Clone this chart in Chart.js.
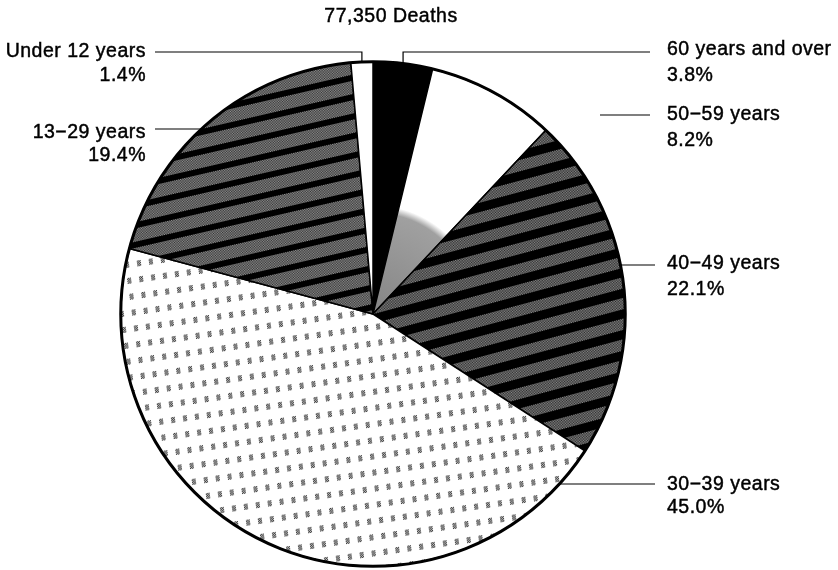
<!DOCTYPE html>
<html>
<head>
<meta charset="utf-8">
<script src="https://cdn.jsdelivr.net/npm/chart.js@4.4.1/dist/chart.umd.min.js"></script>
<style>
  html, body { margin: 0; padding: 0; background: #fff; }
  #wrap { width: 838px; height: 570px; }
</style>
</head>
<body>
<div id="wrap"><canvas id="chartDeaths" width="838" height="570"></canvas></div>
<script>
(function () {
  const categories = ['60 years and over', '50\u221259 years', '40\u221249 years', '30\u221239 years', '13\u221229 years', 'Under 12 years'];
  const shares = [3.8, 8.2, 22.1, 45.0, 19.4, 1.4];
  const totalLabel = '77,350 Deaths';

  const FONT = '19.5px "Liberation Sans", Arial, Helvetica, sans-serif';

  // where each label sits (same order as categories)
  const labelSpots = [
    { side: 'right', tx: 667, ty: 55, gap: 26, lineY: 52, lineTo: 650, elbow: true },
    { side: 'right', tx: 667, ty: 120, gap: 26, lineY: 115, lineFrom: 600, lineTo: 650 },
    { side: 'right', tx: 667, ty: 269, gap: 26, lineY: 265, lineTo: 655 },
    { side: 'right', tx: 667, ty: 490, gap: 23, lineY: 484, lineTo: 655 },
    { side: 'left', tx: 146, ty: 137.5, gap: 23, lineY: 129, lineTo: 155 },
    { side: 'left', tx: 146, ty: 57, gap: 23.5, lineY: 52, lineTo: 155, elbow: true }
  ];

  const pct = v => v.toFixed(1) + '%';

  function tile(w, h) {
    const c = document.createElement('canvas');
    c.width = w; c.height = h;
    return c;
  }

  // dithered gray with solid black bands, tilted
  function stripes(period, band, angle, light, dark) {
    const c = tile(2, period);
    const g = c.getContext('2d');
    for (let y = 0; y < period; y++) {
      for (let x = 0; x < 2; x++) {
        g.fillStyle = y < band ? '#000' : ((x + y) % 2 ? light : dark);
        g.fillRect(x, y, 1, 1);
      }
    }
    const p = g.createPattern(c, 'repeat');
    p.setTransform(new DOMMatrix().rotate(angle));
    return p;
  }

  // white with rows of small gray specks
  function specks(w, h, angle) {
    const c = tile(w, h);
    const g = c.getContext('2d');
    g.fillStyle = '#fff';
    g.fillRect(0, 0, w, h);
    for (let y = 5; y < 11; y++) {
      for (let x = 3; x < 7; x++) {
        g.fillStyle = (x + y) % 2 ? '#383838' : '#c4c4c4';
        g.fillRect(x, y, 1, 1);
      }
    }
    const p = g.createPattern(c, 'repeat');
    p.setTransform(new DOMMatrix().rotate(angle));
    return p;
  }

  const fills = [
    '#000',
    null,
    stripes(20, 9, -15, '#8a8a8a', '#262626'),
    specks(12, 16, -8),
    stripes(19, 6, -13, '#939393', '#2e2e2e'),
    '#fff'
  ];

  function sliceFill(c) {
    const i = c.dataIndex;
    if (fills[i]) return fills[i];
    // 50-59: gray mottled core, white outer part
    const area = c.chart.chartArea;
    if (!area) return '#fff';
    const cx = (area.left + area.right) / 2, cy = (area.top + area.bottom) / 2;
    const r = Math.min(area.width, area.height) / 2;
    const grad = c.chart.ctx.createRadialGradient(cx, cy, 0, cx, cy, r);
    grad.addColorStop(0, '#858585');
    grad.addColorStop(0.40, '#a0a0a0');
    grad.addColorStop(0.43, '#fff');
    grad.addColorStop(1, '#fff');
    return grad;
  }

  const labelPlugin = {
    id: 'ageLabels',
    afterDraw(chart) {
      const ctx = chart.ctx;
      const arcs = chart.getDatasetMeta(0).data;
      const cx = arcs[0].x, cy = arcs[0].y, R = arcs[0].outerRadius;
      ctx.save();
      ctx.beginPath();
      ctx.arc(cx, cy, R, 0, Math.PI * 2);
      ctx.lineWidth = 3;
      ctx.strokeStyle = '#000';
      ctx.stroke();

      ctx.font = FONT;
      ctx.fillStyle = '#000';
      ctx.letterSpacing = '0.5px';
      ctx.textBaseline = 'alphabetic';
      const text = (str, x, y) => {
        ctx.lineWidth = 0.45;
        ctx.strokeText(str, x, y);
        ctx.fillText(str, x, y);
      };
      ctx.textAlign = 'center';
      text(totalLabel, 391, 21.5);

      labelSpots.forEach((s, i) => {
        const a = arcs[i];
        ctx.lineWidth = 1.2;
        ctx.beginPath();
        if (s.elbow) {
          const mid = (a.startAngle + a.endAngle) / 2;
          const ex = cx + R * Math.cos(mid), ey = cy + R * Math.sin(mid);
          ctx.moveTo(ex, ey);
          ctx.lineTo(ex, s.lineY);
          ctx.lineTo(s.lineTo, s.lineY);
        } else {
          let x0 = s.lineFrom;
          if (x0 === undefined) {
            const dy = s.lineY - cy;
            const dx = Math.sqrt(R * R - dy * dy);
            x0 = s.side === 'right' ? cx + dx : cx - dx;
          }
          ctx.moveTo(x0, s.lineY);
          ctx.lineTo(s.lineTo, s.lineY);
        }
        ctx.stroke();
        ctx.textAlign = s.side === 'right' ? 'left' : 'right';
        text(categories[i], s.tx, s.ty);
        text(pct(shares[i]), s.tx, s.ty + s.gap);
      });
      ctx.restore();
    }
  };

  new Chart(document.getElementById('chartDeaths'), {
    type: 'pie',
    data: {
      labels: categories,
      datasets: [{ data: shares, backgroundColor: sliceFill, borderColor: '#000', borderWidth: 1.5 }]
    },
    options: {
      responsive: false,
      devicePixelRatio: 1,
      animation: false,
      events: [],
      layout: { padding: { left: 120, top: 61, right: 212, bottom: 3 } },
      plugins: { legend: { display: false }, tooltip: { enabled: false }, title: { display: false } }
    },
    plugins: [labelPlugin]
  });
})();
</script>
</body>
</html>
